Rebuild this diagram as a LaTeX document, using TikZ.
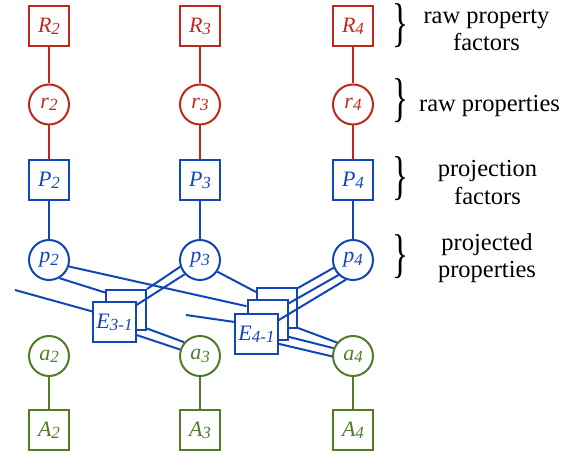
\documentclass[tikz,border=0pt]{standalone}
\usepackage{fontspec}
\setmainfont{Liberation Serif}
\usepackage{graphicx}
\definecolor{cred}{RGB}{192,40,28}
\definecolor{cblue}{RGB}{18,70,182}
\definecolor{cgreen}{RGB}{82,124,42}
\newcommand{\nlab}[2]{\fontsize{22}{22}\selectfont\itshape #1\raisebox{-2.2pt}{\fontsize{17}{17}\selectfont #2}}
\newcommand{\sidebrace}{\resizebox*{16pt}{44pt}{\fontsize{30}{30}\selectfont\}}}
\begin{document}
\begin{tikzpicture}[x=1pt,y=-1pt,
  fbox/.style={draw, rectangle, minimum width=40pt, minimum height=40pt, line width=2pt, inner sep=2pt, fill=white},
  vcirc/.style={draw, circle, minimum size=40pt, inner sep=0pt, line width=2pt, fill=white},
  rednode/.style={draw=cred, text=cred},
  bluenode/.style={draw=cblue, text=cblue},
  greennode/.style={draw=cgreen, text=cgreen},
  elink/.style={draw=cblue, line width=2pt},
  rlink/.style={draw=cred, line width=2pt},
  glink/.style={draw=cgreen, line width=2pt},
  brc/.style={inner sep=0pt},
  side/.style={align=center, font=\fontsize{24.5}{27.5}\selectfont, inner sep=0pt}
]
\useasboundingbox (0,0) rectangle (571,454);

\foreach \c/\x in {2/49,3/200,4/353} {
  \node[fbox, rednode] (R\c) at (\x,26) {\nlab{R}{\c}};
  \node[vcirc, rednode] (r\c) at (\x,104.5) {\nlab{r}{\c}};
  \node[fbox, bluenode] (P\c) at (\x,180) {\nlab{P}{\c}};
  \node[vcirc, bluenode] (p\c) at (\x,260) {\nlab{p}{\c}};
  \node[vcirc, greennode] (a\c) at (\x,356) {\nlab{a}{\c}};
  \node[fbox, greennode] (A\c) at (\x,430) {\nlab{A}{\c}};
  \draw[rlink] (R\c) -- (r\c);
  \draw[rlink] (r\c) -- (P\c);
  \draw[elink] (P\c) -- (p\c);
  \draw[glink] (a\c) -- (A\c);
}

% stacked factor boxes
\node[fbox, bluenode] (E3b) at (126,310) {};
\node[fbox, bluenode, inner sep=3pt] (E3f) at (114.5,322.5) {\nlab{E}{3-1}};
\node[fbox, bluenode] (E4t) at (277,308) {};
\node[fbox, bluenode] (E4s) at (267.5,320.5) {};
\node[fbox, bluenode, inner sep=3pt] (E4f) at (256.5,334.5) {\nlab{E}{4-1}};

\coordinate (free1) at (15,290);
\coordinate (free2) at (186,315);

% E3-1 links
\draw[elink] (p2.300) -- ([yshift=-3.5pt]E3b.north west);
\draw[elink] (p3.199) -- (E3b.north east);
\draw[elink] (p3.223) -- ([yshift=-3.5pt]E3f.north east);
\draw[elink] (free1) -- ([yshift=-10pt]E3f.north west);
\draw[elink] ([yshift=2.5pt]E3b.south east) -- (a3.139);
\draw[elink] ([yshift=8.5pt]E3f.south east) -- (a3.162);

% E4-1 links
\draw[elink] (p2.342) -- ([yshift=-6.7pt]E4s.north west);
\draw[elink] (p3.326) -- ([yshift=-5pt]E4t.north west);
\draw[elink] (free2) -- ([yshift=-8.5pt]E4f.north west);
\draw[elink] (p4.202) -- ([yshift=-1pt]E4t.north east);
\draw[elink] (p4.226) -- ([yshift=-4pt]E4s.north east);
\draw[elink] (p4.250) -- ([yshift=-6.7pt]E4f.north east);
\draw[elink] ([yshift=1pt]E4t.south east) -- (a4.140);
\draw[elink] ([yshift=4.7pt]E4s.south east) -- (a4.158);
\draw[elink] ([yshift=11.7pt]E4f.south east) -- (a4.181);

% braces and side labels
\node[brc] (b1) at (400.5,26) {\sidebrace};
\node[brc] (b2) at (400.5,101) {\sidebrace};
\node[brc] (b3) at (400.5,178.5) {\sidebrace};
\node[brc] (b4) at (400.5,256.5) {\sidebrace};
\node[side] (t1) at (486.5,30) {raw property\\factors};
\node[side] (t2) at (489.5,105.5) {raw properties};
\node[side] (t3) at (487.5,182.5) {projection\\factors};
\node[side] (t4) at (487,258) {projected\\properties};
\end{tikzpicture}
\end{document}
